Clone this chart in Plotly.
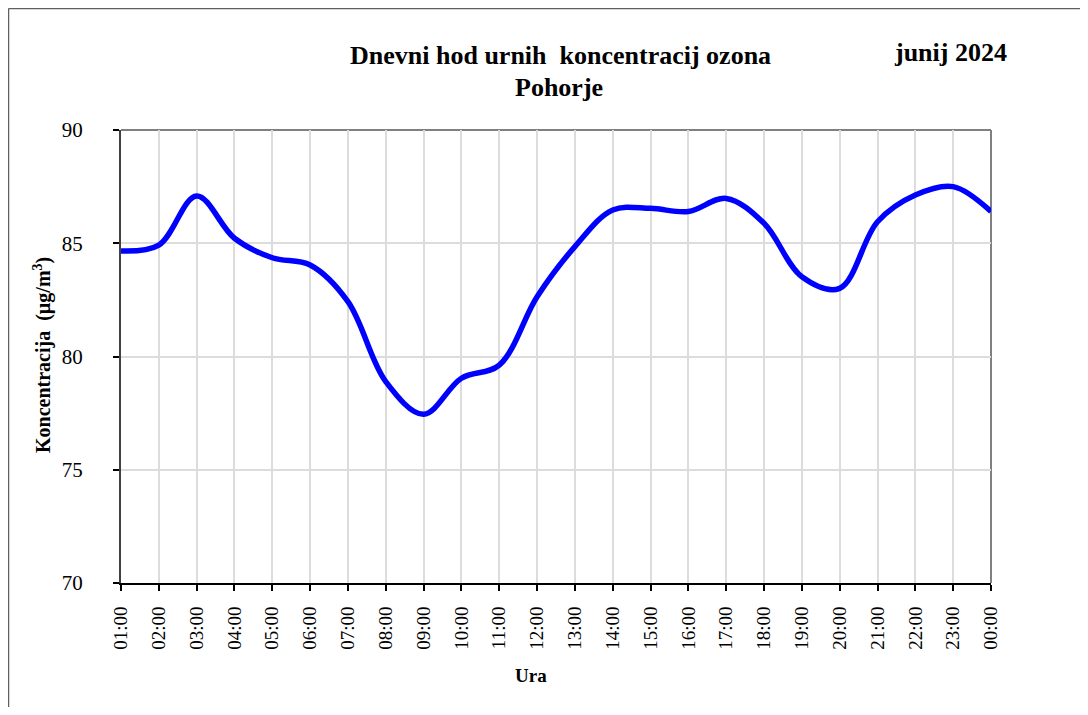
import plotly.graph_objects as go

hours = ["01:00", "02:00", "03:00", "04:00", "05:00", "06:00", "07:00", "08:00",
         "09:00", "10:00", "11:00", "12:00", "13:00", "14:00", "15:00", "16:00",
         "17:00", "18:00", "19:00", "20:00", "21:00", "22:00", "23:00", "00:00"]
ozone = [84.66, 84.92, 87.09, 85.22, 84.36, 84.04, 82.42, 78.89,
         77.45, 79.04, 79.62, 82.64, 84.85, 86.47, 86.54, 86.40,
         86.98, 85.88, 83.52, 83.01, 85.95, 87.13, 87.50, 86.40]
y_ticks = [70, 75, 80, 85, 90]

FONT = "Liberation Serif"

# page body has an 8px default margin; figure coordinates = page coordinates - 8
OFF = 8
W, H = 1088 - 2 * OFF, 715 - 2 * OFF
PL, PR, PT, PB = 121, 991, 130, 583   # plot area in page pixels
L, T = PL - OFF, PT - OFF
R = W - (PR - OFF)
B = H - (PB - OFF)
pw, ph = W - L - R, H - T - B


def px(xpage):
    return (xpage - OFF - L) / pw


def py(ypage):
    return 1 - (ypage - OFF - T) / ph


fig = go.Figure()
fig.add_trace(go.Scatter(
    x=hours, y=ozone, mode="lines",
    line=dict(color="#0000FF", width=5.5, shape="spline", smoothing=1.0),
    showlegend=False, hoverinfo="x+y",
))

fig.update_layout(
    width=W, height=H,
    margin=dict(l=L, r=R, t=T, b=B),
    paper_bgcolor="white", plot_bgcolor="white",
    font=dict(family=FONT, color="black", size=20),
    xaxis=dict(
        type="category", range=[0, len(hours) - 1],
        tickvals=hours, ticktext=hours, tickangle=-90,
        tickfont=dict(size=19, family=FONT, color="black"),
        showgrid=True, gridcolor="#dcdcdc", gridwidth=2,
        showline=True, linecolor="black", linewidth=2,
        ticks="outside", ticklen=6, tickcolor="black", tickwidth=1.5,
        ticklabelstandoff=8,
        zeroline=False,
    ),
    yaxis=dict(
        range=[70, 90], tickvals=y_ticks,
        tickfont=dict(size=21, family=FONT, color="black"),
        showgrid=True, gridcolor="#dcdcdc", gridwidth=2,
        showline=True, linecolor="#404040", linewidth=2,
        ticks="outside", ticklen=6, tickcolor="black", tickwidth=1.5,
        ticklabelstandoff=26,
        zeroline=False,
    ),
    shapes=[
        # plot border (top/right gray)
        dict(type="line", xref="paper", yref="paper", x0=0, x1=1, y0=1, y1=1,
             line=dict(color="#808080", width=2), layer="below"),
        dict(type="line", xref="paper", yref="paper", x0=1, x1=1, y0=0, y1=1,
             line=dict(color="#808080", width=2), layer="below"),
        # outer chart frame (top and left)
        dict(type="line", xref="paper", yref="paper", x0=px(8.5), x1=px(1100),
             y0=py(8.5), y1=py(8.5), line=dict(color="#606060", width=1.5)),
        dict(type="line", xref="paper", yref="paper", x0=px(8.5), x1=px(8.5),
             y0=py(8.5), y1=py(720), line=dict(color="#606060", width=1.5)),
    ],
    annotations=[
        dict(text="<b>Dnevni hod urnih  koncentracij ozona</b>", xref="paper", yref="paper",
             x=px(560), y=py(55), xanchor="center", yanchor="middle", showarrow=False,
             font=dict(size=26, family=FONT)),
        dict(text="<b>Pohorje</b>", xref="paper", yref="paper",
             x=px(559), y=py(88), xanchor="center", yanchor="middle", showarrow=False,
             font=dict(size=26, family=FONT)),
        dict(text="<b>junij 2024</b>", xref="paper", yref="paper",
             x=px(950), y=py(52), xanchor="center", yanchor="middle", showarrow=False,
             font=dict(size=26, family=FONT)),
        dict(text="<b>Ura</b>", xref="paper", yref="paper",
             x=px(531), y=py(675), xanchor="center", yanchor="middle", showarrow=False,
             font=dict(size=19, family=FONT)),
        dict(text="<b>Koncentracija  (µg/m<sup>3</sup>)</b>", xref="paper", yref="paper",
             x=px(42), y=py(355), xanchor="center", yanchor="middle", showarrow=False,
             textangle=-90, font=dict(size=20, family=FONT)),
    ],
)

fig.write_html("out.html")
